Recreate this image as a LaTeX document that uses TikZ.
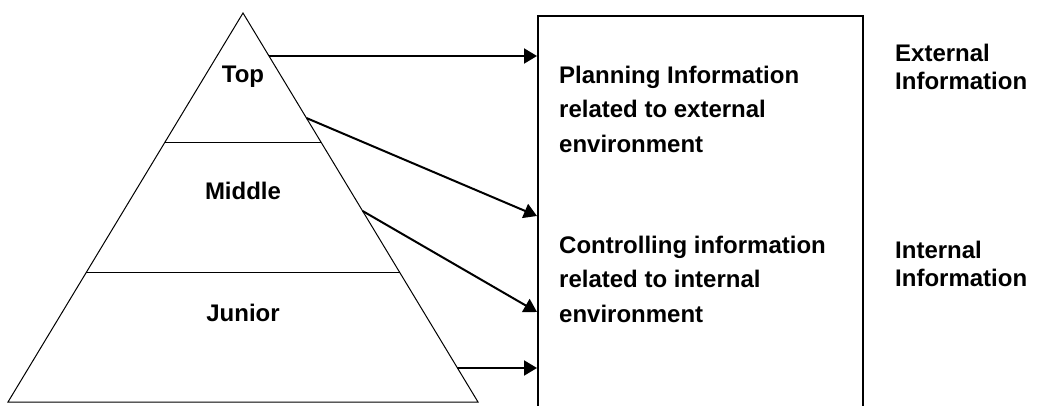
\documentclass[tikz,border=0pt]{standalone}
\usepackage{fontspec}
\setmainfont{Liberation Sans}
\usetikzlibrary{calc,arrows.meta}
\begin{document}
\begin{tikzpicture}[x=1pt,y=-1pt,
  level/.style={font=\bfseries\fontsize{24}{28}\selectfont, inner sep=0pt, anchor=base},
  boxtext/.style={font=\bfseries\fontsize{24}{34.5}\selectfont, inner sep=0pt, align=left, anchor=north west},
  sidetext/.style={font=\bfseries\fontsize{24}{28.5}\selectfont, inner sep=0pt, align=left, anchor=north west},
  flow/.style={line width=2pt, -{Triangle[length=13pt,width=15pt]}},
  thin/.style={line width=1pt}]
\useasboundingbox (0,0) rectangle (1039,406);
\clip (0,0) rectangle (1039,406);

% pyramid
\coordinate (apex) at (243,13);
\coordinate (bl) at (8,402);
\coordinate (br) at (478,402);
\draw[thin] (apex) -- (bl) -- (br) -- cycle;
\draw[line width=1.6pt] ($(apex)!1/3!(bl)$) -- ($(apex)!1/3!(br)$);
\draw[line width=1.6pt] ($(apex)!2/3!(bl)$) -- ($(apex)!2/3!(br)$);

\node[level] (top) at (243,83) {Top};
\node[level] (middle) at (243,200) {Middle};
\node[level] (junior) at (243,321) {Junior};

% information box (open below the page edge)
\node[draw, line width=2.2pt, minimum width=325pt, minimum height=430pt, inner sep=0pt, anchor=north west] (box) at (537,15) {};

\node[boxtext] (plan) at (559,65.5) {Planning Information\\related to external\\environment};
\node[boxtext] (ctrl) at (559,235.5) {Controlling information\\related to internal\\environment};

\node[sidetext] (ext) at (895,43.5) {External\\Information};
\node[sidetext] (int) at (895,240.5) {Internal\\Information};

% flows from the pyramid levels into the box
\coordinate (s1) at ($(apex)!0.1105!(br)$);
\coordinate (s2) at ($(apex)!0.27!(br)$);
\coordinate (s3) at ($(apex)!0.509!(br)$);
\coordinate (s4) at ($(apex)!0.9126!(br)$);
\draw[flow] (s1) -- (s1 -| box.west);
\draw[flow] (s2) -- (box.west |- 0,216);
\draw[flow] (s3) -- (box.west |- 0,312);
\draw[flow] (s4) -- (s4 -| box.west);
\end{tikzpicture}
\end{document}
